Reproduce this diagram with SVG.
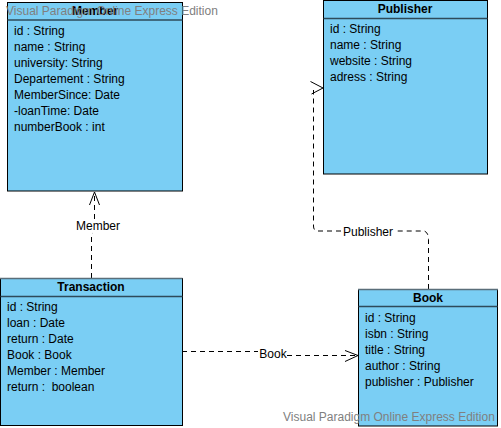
<svg xmlns="http://www.w3.org/2000/svg" width="501" height="428" viewBox="0 0 501 428">
<defs>
<style>
.box{fill:#7acef4;stroke:#000;stroke-width:1}
.hdr{stroke:#2e4a5a;stroke-width:1.5}
.gtop{stroke:#5a6e7a;stroke-width:1.5}
.t{font-family:"Liberation Sans",Arial,sans-serif;font-size:12px;fill:#000;white-space:pre}
.ttl{font-family:"Liberation Sans",Arial,sans-serif;font-size:12px;font-weight:bold;fill:#000;text-anchor:middle}
.lbl{font-family:"Liberation Sans",Arial,sans-serif;font-size:12px;fill:#000;text-anchor:middle}
.wm{font-family:"Liberation Sans",Arial,sans-serif;font-size:12px;fill:#808080}
.dash{fill:none;stroke:#000;stroke-width:1;stroke-dasharray:5,4}
.arr{fill:none;stroke:#000;stroke-width:1}
</style>
</defs>
<g id="connectors">
<path class="dash" d="M91.5,278 V237 Q91.5,234 93,233"/>
<path class="dash" d="M94.5,219 V193"/>
<path class="arr" d="M89.5,205 L94.5,192 L99.5,205"/>
<text class="lbl" x="98" y="230">Member</text>
<path class="dash" d="M428.5,289 V240 Q428.5,232 424,231 H394"/>
<path class="dash" d="M341,231 H318 Q313.5,231 313.5,226 V90"/>
<path class="arr" d="M310.5,81.5 L323,88 L311.5,94"/>
<text class="lbl" x="368" y="236">Publisher</text>
<path class="dash" d="M182,351.5 H258"/>
<path class="dash" d="M287,355.5 H356"/>
<path class="arr" d="M345,350.5 L358,355.5 L345,361.5"/>
<text class="lbl" x="273" y="358">Book</text>
</g>
<g id="member">
<rect class="box" x="7.5" y="2.5" width="175" height="188.5"/>
<line class="hdr" x1="7.5" y1="20" x2="182.5" y2="20"/>
<text class="ttl" x="95" y="14.5">Member</text>
<text class="t" x="14" y="35">id : String</text>
<text class="t" x="14" y="51">name : String</text>
<text class="t" x="14" y="67">university: String</text>
<text class="t" x="14" y="83">Departement : String</text>
<text class="t" x="14" y="99">MemberSince: Date</text>
<text class="t" x="14" y="115">-loanTime: Date</text>
<text class="t" x="14" y="131">numberBook : int</text>
</g>
<g id="publisher">
<rect class="box" x="323.5" y="0.5" width="164" height="173.5"/>
<line class="hdr" x1="323.5" y1="18.5" x2="487.5" y2="18.5"/>
<text class="ttl" x="405" y="13">Publisher</text>
<text class="t" x="330" y="33">id : String</text>
<text class="t" x="330" y="49">name : String</text>
<text class="t" x="330" y="65">website : String</text>
<text class="t" x="330" y="81">adress : String</text>
</g>
<g id="transaction">
<rect class="box" x="0.5" y="278.5" width="182" height="147"/>
<line class="gtop" x1="0" y1="278.5" x2="182.5" y2="278.5"/>
<line class="hdr" x1="0.5" y1="296.5" x2="182.5" y2="296.5"/>
<text class="ttl" x="91" y="291">Transaction</text>
<text class="t" x="7" y="311">id : String</text>
<text class="t" x="7" y="327">loan : Date</text>
<text class="t" x="7" y="343">return : Date</text>
<text class="t" x="7" y="359">Book : Book</text>
<text class="t" x="7" y="375">Member : Member</text>
<text class="t" x="7" y="391" xml:space="preserve">return :  boolean</text>
</g>
<g id="book">
<rect class="box" x="358.5" y="289.5" width="139" height="136.5"/>
<line class="gtop" x1="358" y1="289.5" x2="498" y2="289.5"/>
<line class="hdr" x1="358.5" y1="306.5" x2="497.5" y2="306.5"/>
<text class="ttl" x="428" y="302">Book</text>
<text class="t" x="365" y="322">id : String</text>
<text class="t" x="365" y="338">isbn : String</text>
<text class="t" x="365" y="354">title : String</text>
<text class="t" x="365" y="370">author : String</text>
<text class="t" x="365" y="386">publisher : Publisher</text>
</g>
<text class="wm" x="6" y="15">Visual Paradigm Online Express Edition</text>
<text class="wm" x="283" y="421">Visual Paradigm Online Express Edition</text>
</svg>
